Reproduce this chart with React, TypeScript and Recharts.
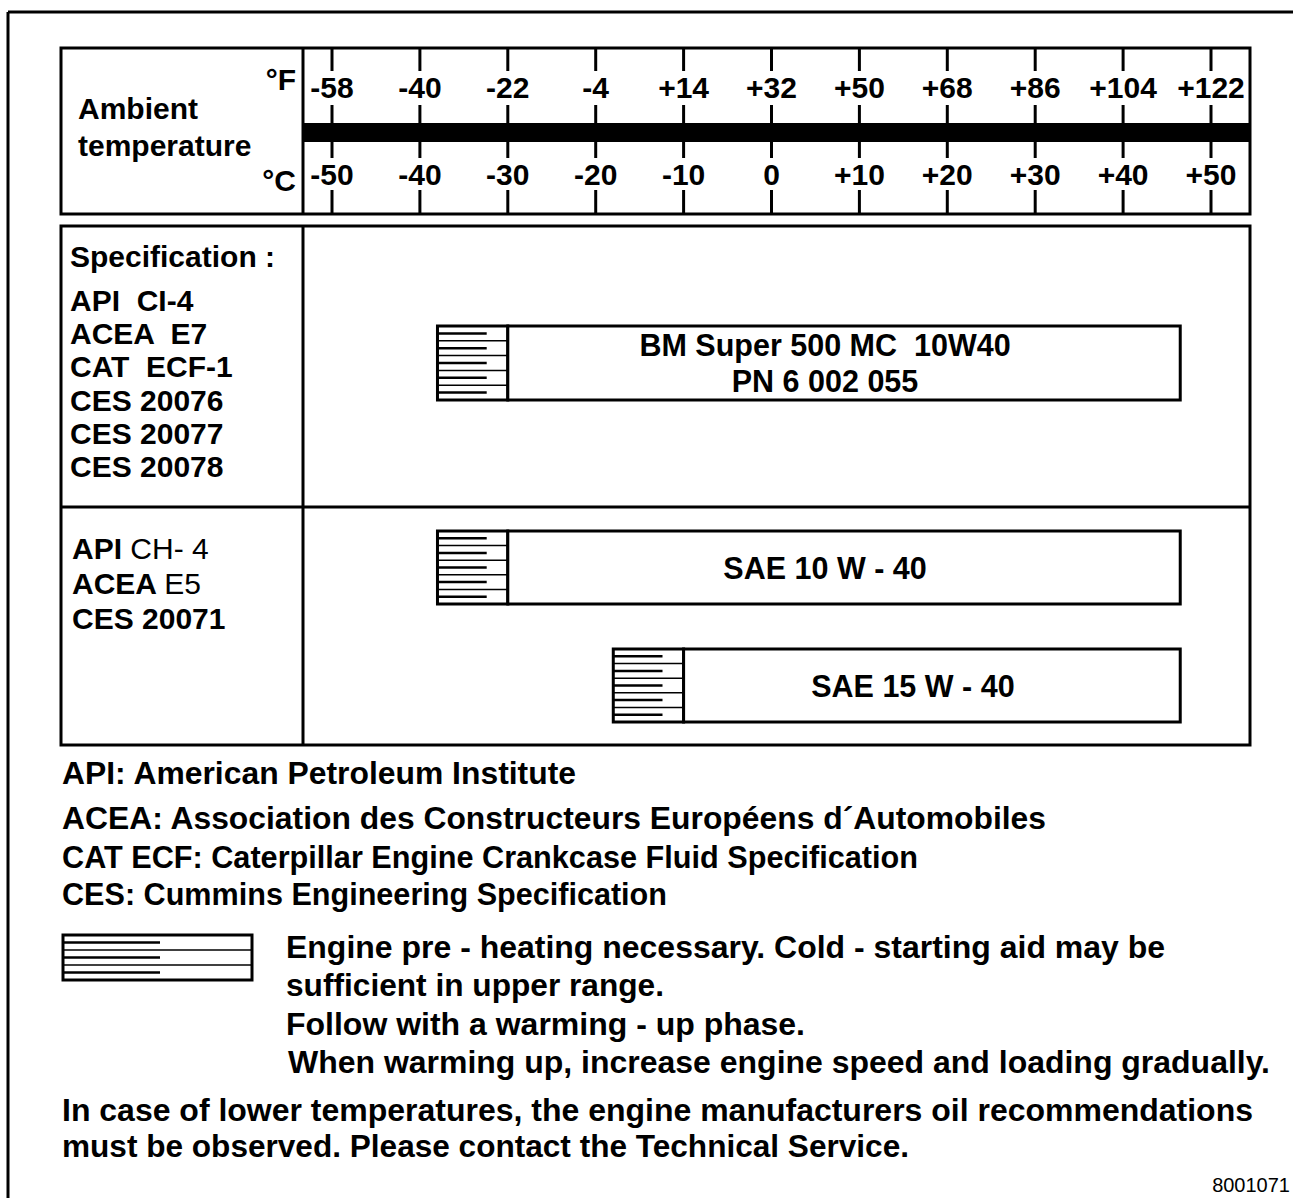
import React from 'react';
import { BarChart, Bar, XAxis, YAxis, LabelList } from 'recharts';

// ---------- data ----------
const celsiusTicks = [-50, -40, -30, -20, -10, 0, 10, 20, 30, 40, 50];
const fahrenheitTicks = [-58, -40, -22, -4, 14, 32, 50, 68, 86, 104, 122];

const specOils = ['BM Super 500 MC'];
const specLabels = ['BM Super 500 MC  10W40\nPN 6 002 055'];
const specPreheatFrom = [-38];
const specPreheatTo = [-30];
const specUpper = [46.5];

const saeOils = ['SAE 10 W - 40', 'SAE 15 W - 40'];
const saeLabels = ['SAE 10 W - 40', 'SAE 15 W - 40'];
const saePreheatFrom = [-38, -18];
const saePreheatTo = [-30, -10];
const saeUpper = [46.5, 46.5];

const specList1 = ['API  CI-4', 'ACEA  E7', 'CAT  ECF-1', 'CES 20076', 'CES 20077', 'CES 20078'];
const specList2Bold = ['API ', 'ACEA ', 'CES 20071'];
const specList2Regular = ['CH- 4', 'E5', ''];
const abbreviations = [
  'API: American Petroleum Institute',
  'ACEA: Association des Constructeurs Européens d´Automobiles',
  'CAT ECF: Caterpillar Engine Crankcase Fluid Specification',
  'CES: Cummins Engineering Specification',
];
const legendLines = [
  'Engine pre - heating necessary. Cold - starting aid may be',
  'sufficient in upper range.',
  'Follow with a warming - up phase.',
  'When warming up, increase engine speed and loading gradually.',
];
const noteLines = [
  'In case of lower temperatures, the engine manufacturers oil recommendations',
  'must be observed. Please contact the Technical Service.',
];
const figureId = '8001071';

const specData = specOils.map((oil, i) => ({
  oil,
  preheat: [specPreheatFrom[i], specPreheatTo[i]],
  range: [specPreheatTo[i], specUpper[i]],
  label: specLabels[i],
}));
const saeData = saeOils.map((oil, i) => ({
  oil,
  preheat: [saePreheatFrom[i], saePreheatTo[i]],
  range: [saePreheatTo[i], saeUpper[i]],
  label: saeLabels[i],
}));
const axisData = celsiusTicks.map((c, i) => ({ c, f: fahrenheitTicks[i] }));

// ---------- style ----------
const FONT = '"Liberation Sans", Arial, Helvetica, sans-serif';
const W = 1293;
const H = 1198;
const PLOT_LEFT = 332;
const PLOT_RIGHT = W - 1211;
const fmt = (v: number) => (v > 0 ? `+${v}` : `${v}`);

const txt = (extra: any = {}) => ({
  fontFamily: FONT,
  fontWeight: 'bold' as const,
  fontSize: 30,
  fill: '#000',
  style: { whiteSpace: 'pre' as const },
  ...extra,
});

// text line layout: [x, baseline, width]
const abbrevLayout = [
  [62, 784, 514],
  [62, 829, 984],
  [62, 868, 856],
  [62, 905, 605],
];
const legendLayout = [
  [286, 958, 879],
  [286, 996, 378],
  [286, 1035, 519],
  [288, 1073, 982],
];
const noteLayout = [
  [62, 1121, 1191],
  [62, 1157, 847],
];

// ---------- shapes ----------
function HatchShape(props: any) {
  const { x, y, width, height } = props;
  const rows = 5;
  const rh = height / rows;
  const lines: any[] = [];
  for (let i = 1; i < rows; i++) {
    lines.push(
      <line key={'f' + i} x1={x} x2={x + width} y1={y + rh * i} y2={y + rh * i} stroke="#000" strokeWidth={1.5} />
    );
  }
  for (let i = 0; i < rows; i++) {
    lines.push(
      <line key={'s' + i} x1={x} x2={x + width * 0.7} y1={y + rh * (i + 0.5)} y2={y + rh * (i + 0.5)} stroke="#000" strokeWidth={2.5} />
    );
  }
  return (
    <g>
      <rect x={x} y={y} width={width} height={height} fill="#fff" />
      {lines}
      <rect x={x} y={y} width={width} height={height} fill="none" stroke="#000" strokeWidth={3} />
    </g>
  );
}

function RangeShape(props: any) {
  const { x, y, width, height } = props;
  return <rect x={x} y={y} width={width} height={height} fill="#fff" stroke="#000" strokeWidth={3} />;
}

function BarLabel(props: any) {
  const { x, y, width, height, value } = props;
  const lines = String(value).split('\n');
  const cx = x + width / 2 - 19;
  const cy = y + height / 2;
  const lh = 36;
  const top = cy - ((lines.length - 1) * lh) / 2;
  return (
    <g>
      {lines.map((l, i) => (
        <text key={i} x={cx} y={top + i * lh + 11} textAnchor="middle" {...txt({ fontSize: 30.5 })}>
          {l}
        </text>
      ))}
    </g>
  );
}

// ---------- axis ticks (header) ----------
function FTick(props: any) {
  const { x, payload } = props;
  return (
    <g>
      <line x1={x} x2={x} y1={0} y2={23} stroke="#000" strokeWidth={3} />
      <text x={x} y={50} textAnchor="middle" {...txt()}>{fmt(payload.value)}</text>
      <line x1={x} x2={x} y1={57} y2={76} stroke="#000" strokeWidth={3} />
    </g>
  );
}
function CTick(props: any) {
  const { x, payload } = props;
  return (
    <g>
      <line x1={x} x2={x} y1={93} y2={110} stroke="#000" strokeWidth={3} />
      <text x={x} y={137} textAnchor="middle" {...txt()}>{fmt(payload.value)}</text>
      <line x1={x} x2={x} y1={142} y2={166} stroke="#000" strokeWidth={3} />
    </g>
  );
}

const abs = (top: number, height: number): React.CSSProperties => ({
  position: 'absolute',
  left: 0,
  top,
  width: W,
  height,
});

export default function App() {
  return (
    <div style={{ position: 'absolute', left: 0, top: 0, width: W, height: H, background: '#fff', overflow: 'hidden' }}>
      {/* frames and text */}
      <svg width={W} height={H} style={{ position: 'absolute', left: 0, top: 0 }}>
        <line x1={8} y1={12} x2={W} y2={12} stroke="#000" strokeWidth={3} />
        <line x1={8} y1={12} x2={8} y2={H} stroke="#000" strokeWidth={3} />

        {/* header box */}
        <rect x={61} y={48} width={1189} height={166} fill="none" stroke="#000" strokeWidth={3} />
        <line x1={303} y1={48} x2={303} y2={214} stroke="#000" strokeWidth={3} />
        <rect x={303} y={123} width={947} height={19} fill="#000" />
        <text x={78} y={119} {...txt()}>Ambient</text>
        <text x={78} y={156} {...txt()}>temperature</text>
        <text x={296} y={90} textAnchor="end" {...txt()}>°F</text>
        <text x={296} y={191} textAnchor="end" {...txt()}>°C</text>

        {/* spec box */}
        <rect x={61} y={226} width={1189} height={519} fill="none" stroke="#000" strokeWidth={3} />
        <line x1={303} y1={226} x2={303} y2={745} stroke="#000" strokeWidth={3} />
        <line x1={61} y1={507} x2={1250} y2={507} stroke="#000" strokeWidth={3} />

        <text x={70} y={267} {...txt()}>Specification :</text>
        {specList1.map((s, i) => (
          <text key={s} x={70} y={311 + i * 33.2} {...txt()}>{s}</text>
        ))}
        {specList2Bold.map((s, i) => (
          <text key={s} x={72} y={559 + i * 35} {...txt()}>
            {s}
            <tspan fontWeight="normal">{specList2Regular[i]}</tspan>
          </text>
        ))}

        {/* abbreviations */}
        {abbreviations.map((s, i) => (
          <text key={s} x={abbrevLayout[i][0]} y={abbrevLayout[i][1]} textLength={abbrevLayout[i][2]}
            lengthAdjust="spacingAndGlyphs" {...txt({ fontSize: 31 })}>{s}</text>
        ))}

        {/* legend symbol */}
        <rect x={63} y={935} width={189} height={45} fill="#fff" stroke="#000" strokeWidth={3} />
        <line x1={63} x2={252} y1={950} y2={950} stroke="#000" strokeWidth={1.5} />
        <line x1={63} x2={252} y1={965} y2={965} stroke="#000" strokeWidth={1.5} />
        {[942.5, 957.5, 972.5].map((yy) => (
          <line key={yy} x1={63} x2={160} y1={yy} y2={yy} stroke="#000" strokeWidth={2.5} />
        ))}
        {legendLines.map((s, i) => (
          <text key={s} x={legendLayout[i][0]} y={legendLayout[i][1]} textLength={legendLayout[i][2]}
            lengthAdjust="spacingAndGlyphs" {...txt({ fontSize: 31 })}>{s}</text>
        ))}
        {noteLines.map((s, i) => (
          <text key={s} x={noteLayout[i][0]} y={noteLayout[i][1]} textLength={noteLayout[i][2]}
            lengthAdjust="spacingAndGlyphs" {...txt({ fontSize: 31 })}>{s}</text>
        ))}
        <text x={1290} y={1192} textAnchor="end" fontFamily={FONT} fontSize={20} fill="#000">{figureId}</text>
      </svg>

      {/* temperature scale */}
      <div style={abs(48, 166)}>
        <BarChart width={W} height={166} data={axisData} margin={{ top: 0, right: PLOT_RIGHT, bottom: 0, left: PLOT_LEFT }}>
          <XAxis xAxisId="f" orientation="top" type="number" dataKey="f" domain={[-58, 122]} ticks={fahrenheitTicks} interval={0}
            axisLine={false} tickLine={false} tick={<FTick />} allowDataOverflow />
          <XAxis xAxisId="c" orientation="bottom" type="number" dataKey="c" domain={[-50, 50]} ticks={celsiusTicks} interval={0}
            axisLine={false} tickLine={false} tick={<CTick />} allowDataOverflow />
          <YAxis hide />
        </BarChart>
      </div>

      {/* specification oil */}
      <div style={abs(227, 272)}>
        <BarChart layout="vertical" width={W} height={272} data={specData} margin={{ top: 0, right: PLOT_RIGHT, bottom: 0, left: PLOT_LEFT }}>
          <XAxis type="number" domain={[-50, 50]} hide allowDataOverflow />
          <YAxis yAxisId="p" type="category" dataKey="oil" hide />
          <YAxis yAxisId="r" type="category" dataKey="oil" hide />
          <Bar yAxisId="p" dataKey="preheat" barSize={74} shape={<HatchShape />} isAnimationActive={false} />
          <Bar yAxisId="r" dataKey="range" barSize={74} shape={<RangeShape />} isAnimationActive={false}>
            <LabelList dataKey="label" content={<BarLabel />} />
          </Bar>
        </BarChart>
      </div>

      {/* SAE grades */}
      <div style={abs(508, 236)}>
        <BarChart layout="vertical" width={W} height={236} data={saeData} margin={{ top: 0, right: PLOT_RIGHT, bottom: 0, left: PLOT_LEFT }}>
          <XAxis type="number" domain={[-50, 50]} hide allowDataOverflow />
          <YAxis yAxisId="p" type="category" dataKey="oil" hide />
          <YAxis yAxisId="r" type="category" dataKey="oil" hide />
          <Bar yAxisId="p" dataKey="preheat" barSize={73} shape={<HatchShape />} isAnimationActive={false} />
          <Bar yAxisId="r" dataKey="range" barSize={73} shape={<RangeShape />} isAnimationActive={false}>
            <LabelList dataKey="label" content={<BarLabel />} />
          </Bar>
        </BarChart>
      </div>
    </div>
  );
}
